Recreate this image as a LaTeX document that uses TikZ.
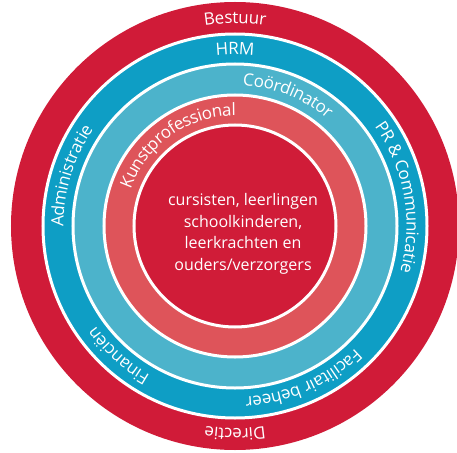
\documentclass[tikz,border=0pt]{standalone}
\usepackage{fontspec}
\setmainfont{Open Sans}
\usetikzlibrary{decorations.text}
\definecolor{ringRed}{RGB}{208,27,56}
\definecolor{ringBlue}{RGB}{14,158,197}
\definecolor{ringLightBlue}{RGB}{76,179,203}
\definecolor{ringSalmon}{RGB}{222,84,90}
\definecolor{coreRed}{RGB}{208,28,56}
\newcommand{\labelfont}{\color{white}\fontsize{17}{20}\selectfont}
\tikzset{
    ring/.style={draw=white,line width=3pt},
    ringlabel/.style={decorate,decoration={text along path,text align=center,raise=-5.5pt,text={|\labelfont|#1}}}
}

\begin{document}
\begin{tikzpicture}[x=1pt,y=1pt]
  \useasboundingbox (-235,-226) rectangle (222,226);
  \fill[ringRed] (0,0) circle[radius=224];
  \filldraw[ring,fill=ringBlue] (0,0) circle[radius=192];
  \filldraw[ring,fill=ringLightBlue] (0,0) circle[radius=162];
  \filldraw[ring,fill=ringSalmon] (0,0) circle[radius=131];
  \filldraw[ring,fill=coreRed] (0,0) circle[radius=101];

  % outer ring
  \path[ringlabel={Bestuur}] (150:208) arc[start angle=150,end angle=30,radius=208];
  \path[ringlabel={Directie}] (-30:208) arc[start angle=-30,end angle=-150,radius=208];
  % blue ring
  \path[ringlabel={HRM}] (150:177) arc[start angle=150,end angle=30,radius=177];
  \path[ringlabel={Administratie}] (223:177) arc[start angle=223,end angle=103,radius=177];
  \path[ringlabel={PR {\&} Communicatie}] (70:177) arc[start angle=70,end angle=-50,radius=177];
  \path[ringlabel={Facilitair beheer}] (-6:177) arc[start angle=-6,end angle=-126,radius=177];
  \path[ringlabel={Financiën}] (288:177) arc[start angle=288,end angle=168,radius=177];
  % light blue ring
  \path[ringlabel={Coördinator}] (128:146.5) arc[start angle=128,end angle=8,radius=146.5];
  % salmon ring
  \path[ringlabel={Kunstprofessional}] (185:116) arc[start angle=185,end angle=65,radius=116];

  \node[align=center,text=white,font=\fontsize{16}{21.5}\selectfont] (clients) at (8,-8)
    {cursisten, leerlingen\\schoolkinderen,\\leerkrachten en\\ouders/verzorgers};
\end{tikzpicture}
\end{document}
